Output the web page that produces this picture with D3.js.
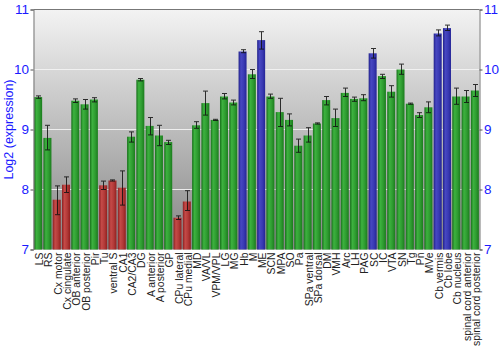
<!DOCTYPE html>
<html>
<head>
<meta charset="utf-8">
<script src="https://cdn.jsdelivr.net/npm/d3@7"></script>
<style>
  html, body { margin: 0; padding: 0; background: #fff; }
  svg { display: block; font-family: "Liberation Sans", Arial, sans-serif; }
</style>
</head>
<body>
<svg id="chart" width="500" height="350"></svg>
<script>
// Brain regions and mean log2 expression with error range
const regions = ["LS","RS","Cx motor","Cx cingulate","OB anterior","OB posterior","Pir","Tu","ventral S","CA1","CA2/CA3","DG","A anterior","A posterior","GP","CPu lateral","CPu medial","MD","VA/VL","VPM/VPL","LG","MG","Hb","M","ME","SCN","MPA","SO","Pa","SPa ventral","SPa dorsal","DM","VMH","Arc","LH","PAG","SC","IC","VTA","SN","Tg","Pn","MVe","Cb vermis","Cb lobe","Cb nucleus","spinal cord anterior","spinal cord posterior"];
const values = [9.54,8.86,7.83,8.08,9.48,9.42,9.50,8.07,8.15,8.03,8.88,9.83,9.06,8.90,8.79,7.53,7.80,9.07,9.44,9.16,9.55,9.45,10.30,9.92,10.49,9.55,9.29,9.16,8.73,8.90,9.10,9.49,9.19,9.61,9.51,9.52,10.27,9.89,9.63,10.00,9.43,9.24,9.37,10.60,10.69,9.55,9.55,9.65];
const errLow = [9.52,8.66,7.58,7.95,9.45,9.34,9.46,8.00,8.14,7.74,8.79,9.81,8.91,8.73,8.75,7.50,7.65,9.02,9.24,9.15,9.51,9.41,10.28,9.85,10.34,9.52,9.05,9.06,8.62,8.79,9.09,9.41,9.05,9.55,9.47,9.48,10.19,9.85,9.54,9.92,9.42,9.20,9.28,10.56,10.65,9.42,9.45,9.55];
const errHigh = [9.56,9.07,8.06,8.21,9.51,9.50,9.53,8.14,8.16,8.31,8.96,9.85,9.20,9.07,8.82,7.56,7.98,9.13,9.64,9.17,9.60,9.49,10.33,10.00,10.63,9.59,9.52,9.26,8.84,9.03,9.11,9.55,9.34,9.69,9.54,9.58,10.35,9.92,9.73,10.09,9.44,9.28,9.46,10.66,10.74,9.69,9.65,9.75];
// colour group per region: g = green, r = red, b = blue
const groups = ["g","g","r","r","g","g","g","r","r","r","g","g","g","g","g","r","r","g","g","g","g","g","b","g","b","g","g","g","g","g","g","g","g","g","g","g","b","g","g","g","g","g","g","b","b","g","g","g"];
const yTicks = [7, 8, 9, 10, 11];

const svg = d3.select("#chart");
const margin = { left: 33.5, right: 20.5, top: 9.5, bottom: 100.5 };
const W = 500, H = 350;
const x0 = margin.left, x1 = W - margin.right, y0 = H - margin.bottom, y1 = margin.top;

const x = d3.scaleBand().domain(regions).range([x0, x1]).paddingInner(0.14).paddingOuter(0.07);
const y = d3.scaleLinear().domain([7, 11]).range([y0, y1]);

const defs = svg.append("defs");
const bg = defs.append("linearGradient").attr("id", "bg").attr("x1", 0).attr("y1", 0).attr("x2", 0).attr("y2", 1);
bg.append("stop").attr("offset", "0%").attr("stop-color", "#f3f3f3");
bg.append("stop").attr("offset", "100%").attr("stop-color", "#858585");

const palettes = {
  g: ["#17701a", "#3db23f", "#2f9c31", "#1b7c1d"],
  r: ["#8a1f1f", "#c54a48", "#b23a38", "#921f1f"],
  b: ["#21218a", "#4747c2", "#3a3ab4", "#242496"]
};
Object.entries(palettes).forEach(([k, c]) => {
  const g = defs.append("linearGradient").attr("id", "bar-" + k).attr("x1", 0).attr("y1", 0).attr("x2", 1).attr("y2", 0);
  g.append("stop").attr("offset", "0%").attr("stop-color", c[0]);
  g.append("stop").attr("offset", "30%").attr("stop-color", c[1]);
  g.append("stop").attr("offset", "65%").attr("stop-color", c[2]);
  g.append("stop").attr("offset", "100%").attr("stop-color", c[3]);
});

// plot background
svg.append("rect").attr("x", x0).attr("y", y1).attr("width", x1 - x0).attr("height", y0 - y1).attr("fill", "url(#bg)");

// gridlines
svg.append("g").selectAll("line").data(yTicks.filter(t => t > 7 && t < 11)).join("line")
  .attr("x1", x0).attr("x2", x1).attr("y1", d => y(d)).attr("y2", d => y(d))
  .attr("stroke", "#f4f4f4").attr("stroke-width", 1.2).attr("opacity", 0.9);

// bars
const idx = d3.range(regions.length);
svg.append("g").selectAll("rect").data(idx).join("rect")
  .attr("x", i => x(regions[i]))
  .attr("y", i => y(values[i]))
  .attr("width", x.bandwidth())
  .attr("height", i => y(7) - y(values[i]))
  .attr("fill", i => "url(#bar-" + groups[i] + ")");

// error bars
const eb = svg.append("g").attr("stroke", "#111").attr("stroke-width", 1).attr("opacity", 0.85);
idx.forEach(i => {
  const cx = Math.round(x(regions[i]) + x.bandwidth() / 2) + 0.5;
  const lo = y(errLow[i]), hi = y(errHigh[i]);
  eb.append("line").attr("x1", cx).attr("x2", cx).attr("y1", hi).attr("y2", lo);
  eb.append("line").attr("x1", cx - 2.5).attr("x2", cx + 2.5).attr("y1", hi).attr("y2", hi);
  eb.append("line").attr("x1", cx - 2.5).attr("x2", cx + 2.5).attr("y1", lo).attr("y2", lo);
});

// frame
svg.append("line").attr("x1", x0).attr("x2", x1).attr("y1", y1).attr("y2", y1).attr("stroke", "#777").attr("stroke-width", 1);

// axes
const leftAxis = svg.append("g").attr("transform", `translate(${x0},0)`)
  .call(d3.axisLeft(y).tickValues(yTicks).tickSize(3).tickPadding(1.5).tickFormat(d3.format("d")));
const rightAxis = svg.append("g").attr("transform", `translate(${x1},0)`)
  .call(d3.axisRight(y).tickValues(yTicks).tickSize(3).tickPadding(1.5).tickFormat(d3.format("d")));
[leftAxis, rightAxis].forEach(a => {
  a.select(".domain").attr("stroke", "#777");
  a.selectAll(".tick line").attr("stroke", "#555");
  a.selectAll(".tick text").attr("fill", "#1a1aff").attr("font-size", 13.5).attr("font-family", "Liberation Sans, Arial, sans-serif");
});

// category labels
svg.append("g").selectAll("text").data(regions).join("text")
  .attr("transform", d => `translate(${x(d) + x.bandwidth() / 2 + 5},${y0 + 3}) rotate(-90)`)
  .attr("text-anchor", "end")
  .attr("font-size", 10.4)
  .attr("fill", "#222")
  .text(d => d);

// y title
svg.append("text")
  .attr("transform", `translate(12.5,${(y0 + y1) / 2}) rotate(-90)`)
  .attr("text-anchor", "middle")
  .attr("font-size", 12.5)
  .attr("fill", "#1a1aff")
  .text("Log2 (expression)");
</script>
</body>
</html>
